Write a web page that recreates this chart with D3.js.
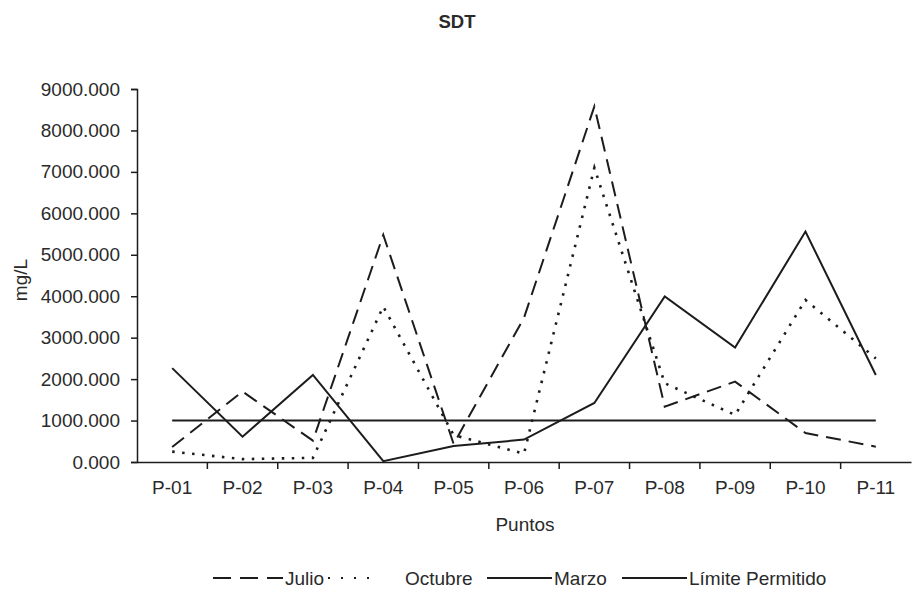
<!DOCTYPE html>
<html>
<head>
<meta charset="utf-8">
<script src="https://cdn.jsdelivr.net/npm/d3@7"></script>
<style>
  body { margin: 0; background: #fff; }
  text { font-family: "Liberation Sans", Arial, sans-serif; fill: #2a2a2a; }
</style>
</head>
<body>
<svg id="chart"></svg>
<script>
// Data
const puntos = ["P-01", "P-02", "P-03", "P-04", "P-05", "P-06", "P-07", "P-08", "P-09", "P-10", "P-11"];
const julio = [360, 1700, 515, 5480, 435, 3480, 8580, 1335, 1940, 700, 370];
const octubre = [250, 70, 100, 3750, 650, 200, 7100, 1900, 1135, 3910, 2500];
const marzo = [2265, 612, 2100, 20, 385, 540, 1425, 3995, 2760, 5560, 2100];
const limite = [1000, 1000, 1000, 1000, 1000, 1000, 1000, 1000, 1000, 1000, 1000];
const seriesNames = ["Julio", "Octubre", "Marzo", "Límite Permitido"];
const yTicks = [0, 1000, 2000, 3000, 4000, 5000, 6000, 7000, 8000, 9000];

let width = 912, height = 591;
let margin = { top: 89, bottom: 129, left: 137, right: 1 };

let svg = d3.select('#chart')
    .attr('width', width)
    .attr('height', height)

const ink = '#1c1c1c';
const dashes = { "Julio": "15,8", "Octubre": "2.5,7.5", "Marzo": null, "Límite Permitido": null };

// scales
let xScale = d3.scaleBand()
    .domain(puntos)
    .range([margin.left, width - margin.right])

let yScale = d3.scaleLinear()
    .domain([0, 9000])
    .range([height - margin.bottom, margin.top]);

// y axis
let yAxis = svg.append('g')
    .attr('transform', `translate(${margin.left}, 0)`)
    .call(d3.axisLeft(yScale).tickValues(yTicks).tickFormat(d3.format('.3f')).tickSize(6).tickPadding(11))

yAxis.select('.domain').attr('stroke', ink).attr('stroke-width', 1.5)
yAxis.selectAll('.tick line').attr('stroke', ink).attr('stroke-width', 1.5)
yAxis.selectAll('.tick text').style('font-size', '19px').attr('fill', '#2a2a2a')

// x axis: labels in the middle of each band, ticks on the band edges
let xAxis = svg.append('g')
    .attr('transform', `translate(0, ${height - margin.bottom})`)
    .call(d3.axisBottom(xScale).tickSize(0).tickPadding(19))

xAxis.select('.domain').attr('stroke', ink).attr('stroke-width', 1.5)
xAxis.selectAll('.tick text').style('font-size', '19px').attr('fill', '#2a2a2a')

xAxis.selectAll('.edge')
    .data(puntos.slice(1))
    .enter()
    .append('line')
    .attr('x1', d => xScale(d))
    .attr('x2', d => xScale(d))
    .attr('y1', 0)
    .attr('y2', 7)
    .attr('stroke', ink)
    .attr('stroke-width', 1.5)

// lines
const allSeries = [
    { name: "Límite Permitido", values: limite },
    { name: "Marzo", values: marzo },
    { name: "Octubre", values: octubre },
    { name: "Julio", values: julio }
];

const line = d3.line()
    .x((d, i) => xScale(puntos[i]) + xScale.bandwidth() / 2)
    .y(d => yScale(d));

svg.selectAll('.serie')
    .data(allSeries)
    .enter()
    .append('path')
    .attr('class', 'serie')
    .attr('d', d => line(d.values))
    .attr('fill', 'none')
    .attr('stroke', ink)
    .attr('stroke-width', d => d.name == 'Octubre' ? 2.6 : 2)
    .attr('stroke-dasharray', d => dashes[d.name])

// title
svg.append('text')
    .attr('x', 457)
    .attr('y', 28)
    .attr('text-anchor', 'middle')
    .style('font-size', '18.5px')
    .style('font-weight', 'bold')
    .text('SDT')

// axis titles
svg.append('text')
    .attr('x', 525)
    .attr('y', 531)
    .attr('text-anchor', 'middle')
    .style('font-size', '19px')
    .text('Puntos')

svg.append('text')
    .attr('transform', 'translate(27, 280) rotate(-90)')
    .attr('text-anchor', 'middle')
    .style('font-size', '19px')
    .text('mg/L')

// legend
const legendX = [213, 328, 487, 622];
const legendW = [70, 52, 65, 65];

const legend = svg.selectAll('.legend')
    .data(seriesNames)
    .enter().append('g')
    .attr('class', 'legend')
    .attr('transform', (d, i) => `translate(${legendX[i]}, 578)`)

legend.append('line')
    .attr('x1', 0)
    .attr('x2', (d, i) => legendW[i])
    .attr('y1', 0)
    .attr('y2', 0)
    .attr('stroke', ink)
    .attr('stroke-width', 2)
    .attr('stroke-dasharray', d => d == 'Julio' ? '18,9' : d == 'Octubre' ? '2,11' : null)

legend.append('text')
    .attr('x', (d, i) => legendW[i] + (d == 'Octubre' ? 25 : 2))
    .attr('y', 7)
    .style('font-size', '19px')
    .text(d => d)
</script>
</body>
</html>
